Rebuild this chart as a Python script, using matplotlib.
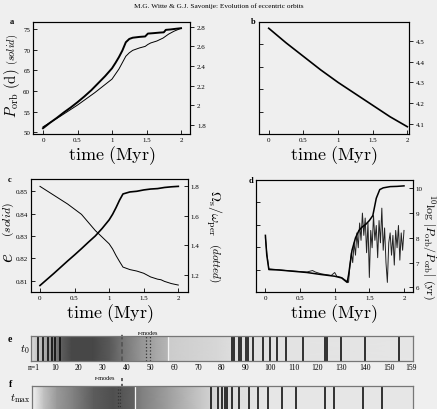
import matplotlib
matplotlib.use('Agg')
import matplotlib.pyplot as plt
import numpy as np

plt.rcParams['font.family'] = 'serif'
plt.rcParams['font.serif'] = ['Liberation Serif', 'DejaVu Serif']
plt.rcParams['mathtext.fontset'] = 'cm'

# ---- panel a : orbital period (thick, left) and second quantity (thin, right)
a_t = [0, 0.1, 0.2, 0.3, 0.4, 0.5, 0.6, 0.7, 0.8, 0.9, 1.0, 1.05, 1.1, 1.15,
       1.2, 1.25, 1.3, 1.4, 1.48, 1.52, 1.6, 1.7, 1.75, 1.78, 1.85, 1.92, 2.0]
a_porb = [51.0, 52.3, 53.5, 54.8, 56.0, 57.3, 58.7, 60.2, 61.9, 63.6, 65.5, 66.8,
          68.2, 69.8, 71.8, 72.6, 72.9, 73.1, 73.2, 73.9, 74.0, 74.15, 74.2, 74.8,
          74.9, 75.05, 75.2]
a_t2 = [0, 0.25, 0.5, 0.75, 1.0, 1.1, 1.2, 1.25, 1.3, 1.4, 1.48, 1.52, 1.56,
        1.65, 1.74, 1.78, 1.82, 1.9, 2.0]
a_right = [1.783, 1.89, 2.004, 2.13, 2.268, 2.37, 2.50, 2.535, 2.56, 2.585, 2.60,
           2.62, 2.635, 2.655, 2.685, 2.705, 2.725, 2.755, 2.784]

# ---- panel b
b_t = [0, 0.25, 0.5, 0.75, 1.0, 1.25, 1.5, 1.75, 2.0]
b_val = [4.56, 4.49, 4.425, 4.36, 4.30, 4.245, 4.19, 4.135, 4.087]

# ---- panel c : eccentricity (thick) and Omega_s / omega_per (thin)
c_t = [0, 0.1, 0.2, 0.3, 0.4, 0.5, 0.6, 0.7, 0.8, 0.9, 1.0, 1.05, 1.1, 1.15,
       1.2, 1.3, 1.4, 1.5, 1.6, 1.7, 1.8, 1.9, 2.0]
c_ecc = [0.8078, 0.8105, 0.8132, 0.8160, 0.8188, 0.8215, 0.8243, 0.8272, 0.8300,
         0.8334, 0.8372, 0.8397, 0.8427, 0.8460, 0.8488, 0.8497, 0.8500, 0.8506,
         0.8510, 0.8512, 0.8517, 0.8520, 0.8522]
c_t2 = [0, 0.2, 0.4, 0.6, 0.8, 0.9, 1.0, 1.05, 1.1, 1.15, 1.2, 1.3, 1.4, 1.5,
        1.6, 1.7, 1.75, 1.8, 1.9, 2.0]
c_omega = [1.80, 1.74, 1.68, 1.61, 1.50, 1.455, 1.41, 1.375, 1.33, 1.29, 1.252,
           1.235, 1.225, 1.21, 1.185, 1.17, 1.166, 1.155, 1.14, 1.13]

# ---- panel d : log timescale, smooth (thick) and noisy (thin)
d_t = [0, 0.02, 0.05, 0.2, 0.4, 0.6, 0.8, 1.0, 1.1, 1.18, 1.2, 1.25, 1.3, 1.35,
       1.4, 1.45, 1.5, 1.55, 1.6, 1.65, 1.7, 1.8, 1.9, 2.0]
d_smooth = [8.1, 7.3, 6.72, 6.70, 6.65, 6.60, 6.52, 6.45, 6.38, 6.20, 6.5, 7.5,
            8.0, 8.3, 8.45, 8.55, 8.7, 8.9, 9.6, 9.95, 10.02, 10.07, 10.08, 10.1]
d_t2 = [0, 0.02, 0.05, 0.3, 0.6, 0.68, 0.72, 0.8, 0.95, 1.0, 1.03, 1.1, 1.2,
        1.22, 1.24, 1.26, 1.28, 1.30, 1.32, 1.34, 1.36, 1.38, 1.40, 1.42, 1.44,
        1.46, 1.48, 1.50, 1.52, 1.54, 1.56, 1.58, 1.60, 1.62, 1.64, 1.66, 1.68,
        1.70, 1.72, 1.74, 1.76, 1.78, 1.80, 1.82, 1.84, 1.86, 1.88, 1.90, 1.92,
        1.94, 1.96, 1.98, 2.00]
d_noisy = [8.0, 7.4, 6.75, 6.68, 6.62, 6.68, 6.62, 6.55, 6.48, 6.6, 6.45, 6.4,
           6.2, 6.9, 7.4, 7.0, 7.8, 7.3, 8.2, 7.6, 8.6, 7.9, 9.0, 8.1, 8.8, 7.4,
           8.6, 6.4, 8.3, 7.6, 8.9, 7.9, 8.5, 7.2, 8.7, 7.8, 9.2, 7.5, 8.4, 7.0,
           6.2, 7.8, 8.2, 7.3, 8.1, 6.9, 8.3, 7.6, 8.5, 7.1, 8.2, 7.5, 8.3]

# ---- panels e, f : mode spectrum ribbons
e_shade_n = [0, 2, 5, 9, 13, 17, 26, 33, 38, 46, 52, 57.3, 57.8, 66, 78, 85, 100, 160]
e_shade = [0.86, 0.8, 0.7, 0.55, 0.36, 0.28, 0.28, 0.35, 0.45, 0.58, 0.65, 0.71,
           0.80, 0.82, 0.84, 0.87, 0.89, 0.9]
e_modes = [3, 5, 7, 9, 10, 12, 84, 85, 87, 88, 90, 91, 93, 97, 100, 103, 107,
           114, 123, 124, 130, 140, 154]
e_dashed = [38]
e_dotted = [48, 50]
e_light = [57.5]
e_tick_n = [1, 10, 20, 30, 40, 50, 60, 70, 80, 90, 100, 110, 120, 130, 140, 150, 159]
e_tick_lab = ['n=1', '10', '20', '30', '40', '50', '60', '70', '80', '90', '100',
              '110', '120', '130', '140', '150', '159']

f_shade_n = [0, 1.5, 5, 10.5, 17.5, 26, 34, 42.8, 43.5, 46, 57, 71, 80, 100, 160]
f_shade = [0.93, 0.9, 0.75, 0.6, 0.5, 0.36, 0.31, 0.38, 0.46, 0.5, 0.62, 0.78,
           0.86, 0.9, 0.9]
f_modes = [75, 78, 80, 81, 82, 84, 87, 91, 95, 99, 105, 111, 123, 127, 139, 147]
f_dashed = [38]
f_dotted = [36, 37]
f_light = [43.2]

bg = '#efefef'
fig = plt.figure(figsize=(4.37, 4.10), dpi=100, facecolor=bg)

tick_kw = dict(direction='in', length=3, width=0.6, labelsize=5, pad=2)
xticks = [0, 0.5, 1, 1.5, 2]
xlabs = ['0', '0.5', '1', '1.5', '2']


def base_axes(rect, xlim):
    ax = fig.add_axes(rect)
    ax.set_facecolor('none')
    ax.set_xlim(*xlim)
    ax.set_xticks(xticks)
    ax.set_xticklabels(xlabs)
    ax.tick_params(**tick_kw)
    ax.tick_params(axis='x', top=False)
    for s in ax.spines.values():
        s.set_linewidth(0.8)
        s.set_color('#333333')
    ax.set_xlabel(r'$\mathrm{time\ (Myr)}$', fontsize=13, labelpad=1)
    return ax


# panel a
ax = base_axes([0.0755, 0.6707, 0.3593, 0.2732], (-0.145, 2.13))
ax.plot(a_t, a_porb, color='black', lw=1.4)
ax.set_ylim(49.6, 76.7)
ax.set_yticks([50, 55, 60, 65, 70, 75])
tw = ax.twinx()
tw.plot(a_t2, a_right, color='black', lw=0.7)
tw.set_ylim(1.71, 2.848)
tw.set_yticks([1.8, 2.0, 2.2, 2.4, 2.6, 2.8])
tw.set_yticklabels(['1.8', '2', '2.2', '2.4', '2.6', '2.8'])
tw.tick_params(axis='y', direction='out', length=3, width=0.6, labelsize=5, pad=2)
fig.text(0.027, 0.772, r'$P_{\rm orb}\ (\mathrm{d})$', rotation=90, fontsize=10.5,
         ha='center', va='center')
fig.text(0.029, 0.88, r'$(solid)$', rotation=90, fontsize=7.5, ha='center', va='center')
fig.text(0.027, 0.946, 'a', fontsize=6, fontweight='bold', ha='center', va='center')

# panel b
ax = base_axes([0.5927, 0.6707, 0.3426, 0.2732], (-0.14, 2.02))
ax.tick_params(axis='y', left=False, labelleft=False)
tw = ax.twinx()
tw.plot(b_t, b_val, color='black', lw=1.2)
tw.set_ylim(4.052, 4.59)
tw.set_yticks([4.1, 4.2, 4.3, 4.4, 4.5])
tw.tick_params(axis='y', direction='out', length=3, width=0.6, labelsize=5, pad=2)
fig.text(0.579, 0.946, 'b', fontsize=6, fontweight='bold', ha='center', va='center')

# panel c
ax = base_axes([0.0709, 0.2854, 0.3593, 0.2756], (-0.13, 2.14))
ax.plot(c_t, c_ecc, color='black', lw=1.2)
ax.set_ylim(0.8049, 0.8555)
ax.set_yticks([0.81, 0.82, 0.83, 0.84, 0.85])
tw = ax.twinx()
tw.plot(c_t2, c_omega, color='black', lw=0.7)
tw.set_ylim(1.083, 1.85)
tw.set_yticks([1.2, 1.4, 1.6, 1.8])
tw.tick_params(axis='y', **tick_kw)
fig.text(0.02, 0.372, r'$e$', rotation=90, fontsize=14, ha='center', va='center')
fig.text(0.02, 0.465, r'$(solid)$', rotation=90, fontsize=8.5, ha='center', va='center')
fig.text(0.49, 0.48, r'$\Omega_{\rm s}/\omega_{\rm per}$', rotation=-90, fontsize=10,
         ha='center', va='center')
fig.text(0.492, 0.36, r'$(dotted)$', rotation=-90, fontsize=8, ha='center', va='center')
fig.text(0.023, 0.561, 'c', fontsize=6, fontweight='bold', ha='center', va='center')

# panel d
ax = base_axes([0.5851, 0.2846, 0.36, 0.2747], (-0.14, 2.13))
ax.tick_params(axis='y', left=False, labelleft=False)
tw = ax.twinx()
tw.plot(d_t2, d_noisy, color='#222222', lw=0.7)
tw.plot(d_t, d_smooth, color='black', lw=1.1)
tw.set_ylim(5.8, 10.35)
tw.set_yticks([6, 7, 8, 9, 10])
tw.tick_params(axis='y', **tick_kw)
fig.text(0.983, 0.398, r'$^{10}\log\,|P_{\rm orb}/\dot{P}_{\rm orb}|\ (\mathrm{yr})$',
         rotation=-90, fontsize=8.5, ha='center', va='center')
fig.text(0.574, 0.559, 'd', fontsize=6, fontweight='bold', ha='center', va='center')


def ribbon(rect, shade_n, shade, modes, dashed, dotted, light, dash_top):
    ax = fig.add_axes(rect)
    ax.pcolormesh(shade_n, [0, 1], [shade, shade], shading='gouraud', cmap='gray',
                  vmin=0, vmax=1)
    for n in modes:
        ax.axvline(n, color='black', lw=1.1)
    for n in light:
        ax.axvline(n, color='#f4f4f4', lw=0.9)
    for n in dotted:
        ax.plot([n, n], [0, 1.05], color='#333333', lw=0.9, ls=':', clip_on=False)
    for n in dashed:
        ax.plot([n, n], [0, dash_top], color='#555555', lw=1.3, ls=(0, (2.5, 1.5)),
                clip_on=False)
    ax.set_xlim(0, 160)
    ax.set_ylim(0, 1)
    ax.set_yticks([])
    for s in ax.spines.values():
        s.set_linewidth(0.9)
        s.set_color('#777777')
    return ax


ax = ribbon([0.0709, 0.1178, 0.8741, 0.0595], e_shade_n, e_shade, e_modes,
            e_dashed, e_dotted, e_light, 1.1)
ax.set_xticks(e_tick_n)
ax.set_xticklabels(e_tick_lab)
ax.tick_params(axis='x', length=0, labelsize=5.5, pad=2)
ax.text(-0.004, 0.5, r'$t_0$', transform=ax.transAxes, ha='right', va='center',
        fontsize=8)
ax.text(49, 1.06, 'r-modes', ha='center', va='bottom', fontsize=4.5)
fig.text(0.023, 0.173, 'e', fontsize=7, fontweight='bold', ha='center', va='center')

ax = ribbon([0.0732, -0.0027, 0.8719, 0.0595], f_shade_n, f_shade, f_modes,
            f_dashed, f_dotted, f_light, 1.3)
ax.set_xticks([])
ax.text(-0.004, 0.5, r'$t_{\rm max}$', transform=ax.transAxes, ha='right',
        va='center', fontsize=8)
ax.text(30.5, 1.22, 'r-modes', ha='center', va='bottom', fontsize=4.5)
fig.text(0.023, 0.063, 'f', fontsize=7, fontweight='bold', ha='center', va='center')

fig.text(0.5, 0.985, 'M.G. Witte & G.J. Savonije: Evolution of eccentric orbits',
         ha='center', va='center', fontsize=5.2)

fig.savefig('out.png', dpi=100, facecolor=bg)
